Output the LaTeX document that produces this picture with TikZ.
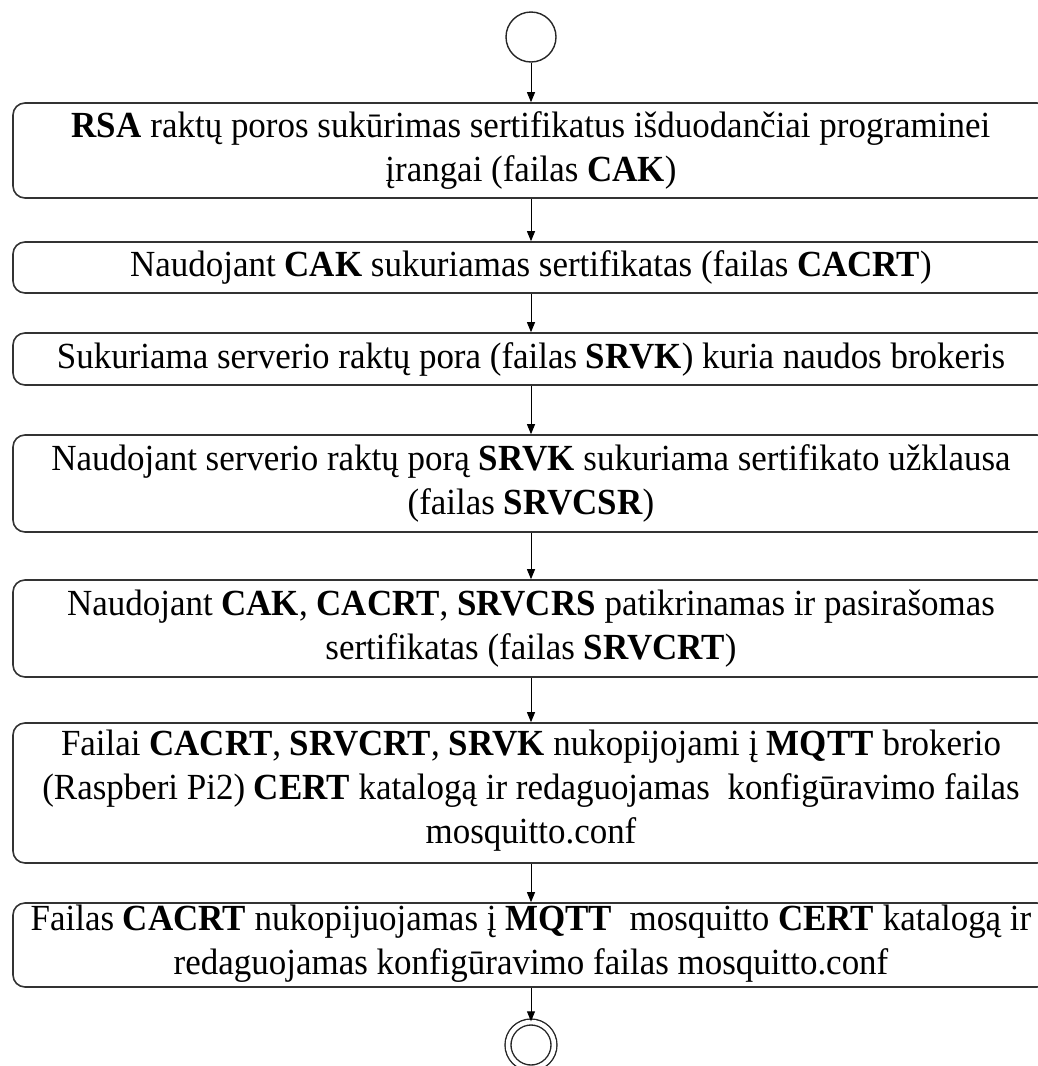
\documentclass[tikz,border=0pt]{standalone}
\usepackage{fontspec}
\setmainfont[FakeStretch=0.95]{Liberation Serif}
\usetikzlibrary{arrows.meta}

\begin{document}
\begin{tikzpicture}[x=1pt,y=-1pt,
  stepbox/.style={draw=black!80, line width=1.6pt, rounded corners=12pt,
    rectangle, minimum width=1036pt, inner sep=0pt, align=center,
    font=\fontsize{36.8}{44}\selectfont},
  steptext/.style={inner sep=0pt, align=center, font=\fontsize{36.8}{44}\selectfont},
  flow/.style={draw=black, line width=0.9pt, -{Triangle[length=10pt,width=8pt]}},
  startnode/.style={circle, draw=black!85, line width=1.4pt, minimum size=50pt, inner sep=0pt},
  endnode/.style={circle, draw=black!85, line width=1.4pt, double=white, double distance=4.5pt,
    minimum size=46pt, inner sep=0pt}]
\useasboundingbox (0,0) rectangle (1038,1066);
\clip (0,0) rectangle (1038,1066);

\node[startnode] (start) at (531,37) {};

\node[stepbox, minimum height=95pt] (s1) at (531,150.5)
  {\textbf{RSA} raktų poros sukūrimas sertifikatus išduodančiai programinei\\ įrangai (failas \textbf{CAK})};
\node[stepbox, minimum height=51pt] (s2) at (531,267.5)
  {Naudojant \textbf{CAK} sukuriamas sertifikatas (failas \textbf{CACRT})};
\node[stepbox, minimum height=52pt] (s3) at (531,359)
  {Sukuriama serverio raktų pora (failas \textbf{SRVK}) kuria naudos brokeris};
\node[stepbox, minimum height=97pt] (s4) at (531,483.5)
  {Naudojant serverio raktų porą \textbf{SRVK} sukuriama sertifikato užklausa\\ (failas \textbf{SRVCSR})};
\node[stepbox, minimum height=97pt] (s5) at (531,628.5)
  {Naudojant \textbf{CAK}, \textbf{CACRT}, \textbf{SRVCRS} patikrinamas ir pasirašomas\\ sertifikatas (failas \textbf{SRVCRT})};
\node[stepbox, minimum height=140pt] (s6) at (531,793) {};
\node[steptext] (s6t) at (531,791)
  {Failai \textbf{CACRT}, \textbf{SRVCRT}, \textbf{SRVK} nukopijojami į \textbf{MQTT} brokerio\\ (Raspberi Pi2) \textbf{CERT} katalogą ir redaguojamas\ \ konfigūravimo failas\\ mosquitto.conf};
\node[stepbox, minimum height=84pt] (s7) at (531,945) {};
\node[steptext, anchor=north] (s7t) at (531,905)
  {Failas \textbf{CACRT} nukopijuojamas į \textbf{MQTT}\ \ mosquitto \textbf{CERT} katalogą ir\\ redaguojamas konfigūravimo failas mosquitto.conf};

\node[endnode] (stop) at (531,1045) {};

\draw[flow] (start) -- (s1);
\draw[flow] (s1) -- (s2);
\draw[flow] (s2) -- (s3);
\draw[flow] (s3) -- (s4);
\draw[flow] (s4) -- (s5);
\draw[flow] (s5) -- (s6);
\draw[flow] (s6) -- (s7);
\draw[flow] (s7) -- (stop);
\end{tikzpicture}
\end{document}
